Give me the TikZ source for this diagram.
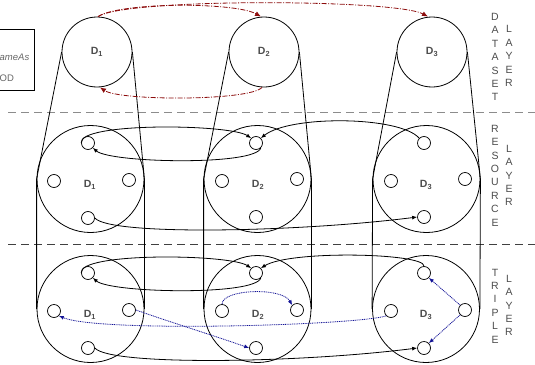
\documentclass[tikz,border=0pt]{standalone}
\usepackage{fontspec}
\setmainfont{Liberation Sans}
\usetikzlibrary{arrows.meta}
\definecolor{dred}{RGB}{140,12,12}
\definecolor{dblue}{RGB}{20,20,150}
\begin{document}
\begin{tikzpicture}[x=1pt,y=-1pt,
  bigc/.style={circle,draw,line width=0.8pt,minimum size=107pt,inner sep=0},
  dsc/.style={circle,draw,line width=0.8pt,minimum size=70pt,inner sep=0},
  smc/.style={circle,draw,line width=0.7pt,minimum size=13pt,inner sep=0},
  dlab/.style={font=\fontsize{10.5}{12}\selectfont\bfseries,text=black!70,inner sep=0},
  laytxt/.style={font=\fontsize{10.5}{13.4}\selectfont,text=black!70,align=center,inner sep=0},
  conn/.style={line width=0.8pt},
  blkarr/.style={line width=0.8pt,-{Latex[length=5pt,width=4pt]}},
  dsarr/.style={dred,line width=0.8pt,dash pattern=on 5pt off 1.5pt on 1pt off 1.5pt,-{Latex[length=6pt,width=5pt]}},
  bluarr/.style={dblue,line width=0.8pt,dash pattern=on 1pt off 0.8pt,-{Latex[length=5pt,width=4pt]}},
  sep/.style={line width=0.9pt,dash pattern=on 8pt off 5pt}
]
\useasboundingbox (0,0) rectangle (535,364);
\begin{scope}
\clip (0,0) rectangle (535,364);
% legend box (clipped at the left)
\draw[line width=0.8pt] (-20,29) rectangle (34,90);
\node[anchor=west,inner sep=0,font=\fontsize{9.5}{11}\selectfont\itshape,text=black!60] (lg1) at (-0.5,57) {ameAs};
\node[anchor=west,inner sep=0,font=\fontsize{9.5}{11}\selectfont,text=black!60] (lg2) at (-0.5,78) {OD};
\end{scope}

% separators
\draw[sep,black!45] (8,112) -- (535,112);
\draw[sep,black!75] (8,244) -- (535,244);

% dataset layer
\node[dsc] (ds1) at (97,52) {};
\node[dsc] (ds2) at (264,52) {};
\node[dsc] (ds3) at (432,52) {};
\node[dlab] (dl1) at (97,52) {D\textsubscript{1}};
\node[dlab] (dl2) at (264,52) {D\textsubscript{2}};
\node[dlab] (dl3) at (432,52) {D\textsubscript{3}};

% resource layer
\node[bigc] (r1) at (90.5,179) {};
\node[bigc] (r2) at (257.5,179) {};
\node[bigc] (r3) at (426.5,179) {};
\node[dlab] (rl1) at (90,185) {D\textsubscript{1}};
\node[dlab] (rl2) at (258,185) {D\textsubscript{2}};
\node[dlab] (rl3) at (426,185) {D\textsubscript{3}};
\node[smc] (r1t) at (88,143) {};
\node[smc] (r1l) at (54,181) {};
\node[smc] (r1r) at (129,180) {};
\node[smc] (r1b) at (88,218) {};
\node[smc] (r2t) at (256,143) {};
\node[smc] (r2l) at (222,181) {};
\node[smc] (r2r) at (297,179) {};
\node[smc] (r2b) at (256,217) {};
\node[smc] (r3t) at (424,143) {};
\node[smc] (r3l) at (391,181) {};
\node[smc] (r3r) at (465,179) {};
\node[smc] (r3b) at (424,217) {};

% triple layer
\node[bigc] (t1) at (90.5,309) {};
\node[bigc] (t2) at (257.5,309) {};
\node[bigc] (t3) at (426,309) {};
\node[dlab] (tl1) at (90,315) {D\textsubscript{1}};
\node[dlab] (tl2) at (258,315) {D\textsubscript{2}};
\node[dlab] (tl3) at (426,315) {D\textsubscript{3}};
\node[smc] (t1t) at (88,273) {};
\node[smc] (t1l) at (54,311) {};
\node[smc] (t1r) at (129,310) {};
\node[smc] (t1b) at (88,348) {};
\node[smc] (t2t) at (256,273) {};
\node[smc] (t2l) at (222,311) {};
\node[smc] (t2r) at (297,310) {};
\node[smc] (t2b) at (256,348) {};
\node[smc] (t3t) at (424,273) {};
\node[smc] (t3l) at (391,311) {};
\node[smc] (t3r) at (465,310) {};
\node[smc] (t3b) at (424,348) {};

% side lines
\foreach \i in {1,2,3} {
  \draw[conn] (ds\i.west) -- (r\i.west) -- (t\i.west);
  \draw[conn] (ds\i.east) -- (r\i.east) -- (t\i.east);
}

% layer titles
\node[laytxt] (tx1) at (495,57) {D\\A\\T\\A\\S\\E\\T};
\node[laytxt] (tx2) at (509,56) {L\\A\\Y\\E\\R};
\node[laytxt] (tx3) at (495,175.5) {R\\E\\S\\O\\U\\R\\C\\E};
\node[laytxt] (tx4) at (509,175.5) {L\\A\\Y\\E\\R};
\node[laytxt] (tx5) at (495,306) {T\\R\\I\\P\\L\\E};
\node[laytxt] (tx6) at (509,305.5) {L\\A\\Y\\E\\R};

% dataset arrows
\draw[dsarr] ([xshift=1pt]ds1.north) .. controls (120,2) and (235,2) .. ([xshift=-3pt]ds2.north);
\draw[dsarr] ([xshift=1pt]ds1.north) .. controls (125,-2) and (395,-1) .. ([xshift=-4pt]ds3.north);
\draw[dsarr] ([xshift=-2pt]ds2.south) .. controls (250,101) and (120,101) .. ([xshift=3pt]ds1.south);

% resource arrows
\draw[blkarr] (r1t.west) .. controls (78,122) and (230,124) .. (r2t.north west);
\draw[blkarr] (r2t.south east) .. controls (256,166) and (110,163) .. (r1t.south east);
\draw[blkarr] (r3t.north west) .. controls (400,116) and (290,115) .. (r2t.north east);
\draw[blkarr] (r1b.east) .. controls (110,236) and (300,232) .. (r3b.west);

% triple arrows
\draw[blkarr] (t1t.west) .. controls (78,252) and (230,254) .. (t2t.north west);
\draw[blkarr] (t2t.south east) .. controls (256,296) and (110,293) .. (t1t.south east);
\draw[blkarr] (t3t.north) .. controls (425,253) and (290,250) .. (t2t.north east);
\draw[blkarr] (t1b.east) .. controls (110,366) and (300,363) .. (t3b.west);

\draw[bluarr] (t2l.north) .. controls (222,289) and (282,287) .. (t2r.north west);
\draw[bluarr] (t1r.east) .. controls (170,322) and (215,336) .. (t2b.west);
\draw[bluarr] (t3l.south west) .. controls (360,325) and (100,333) .. (t1l.south east);
\draw[bluarr] (t3r.north west) -- (t3t.south east);
\draw[bluarr] (t3r.south west) -- (t3b.north east);
\end{tikzpicture}
\end{document}
